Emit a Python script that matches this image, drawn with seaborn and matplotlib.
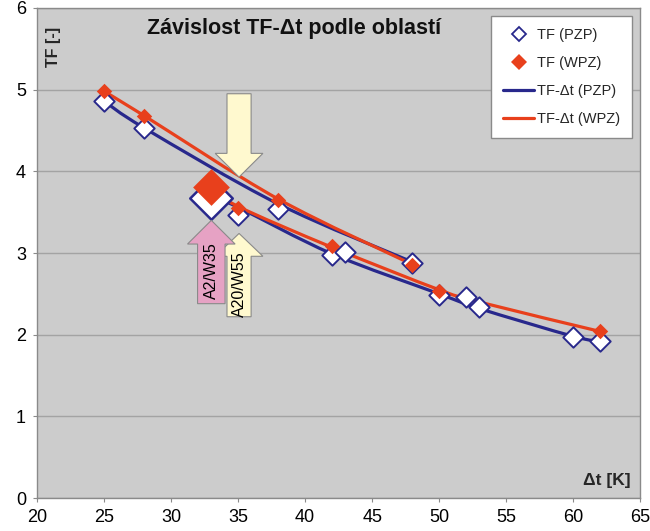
import matplotlib
matplotlib.use("Agg")
import matplotlib.pyplot as plt
import seaborn as sns
import pandas as pd
from matplotlib.path import Path
from matplotlib.patches import PathPatch, FancyArrow
from matplotlib.lines import Line2D

# ---------------- data ----------------
# measured points
dt_pzp = [25, 28, 35, 38, 42, 43, 48, 50, 52, 53, 60, 62]
tf_pzp = [4.86, 4.53, 3.47, 3.54, 2.98, 3.01, 2.88, 2.49, 2.46, 2.34, 1.97, 1.92]
dt_wpz = [25, 28, 35, 38, 42, 48, 50, 62]
tf_wpz = [4.98, 4.68, 3.55, 3.65, 3.08, 2.85, 2.54, 2.05]
# highlighted reference point (A2/W35)
dt_ref = [33]
tf_ref_pzp = [3.67]
tf_ref_wpz = [3.81]

# TF-dt curves
dt_curve_upper = [25, 28, 38, 48]
tf_curve_upper_pzp = [4.86, 4.53, 3.60, 2.89]
tf_curve_upper_wpz = [4.98, 4.68, 3.66, 2.86]
dt_curve_lower_pzp = [33, 35, 42, 50, 53, 60, 62]
tf_curve_lower_pzp = [3.70, 3.56, 2.99, 2.50, 2.32, 1.98, 1.92]
dt_curve_lower_wpz = [33, 35, 42, 50, 53, 62]
tf_curve_lower_wpz = [3.80, 3.57, 3.07, 2.55, 2.40, 2.04]

x_ticks = [20, 25, 30, 35, 40, 45, 50, 55, 60, 65]
y_ticks = [0, 1, 2, 3, 4, 5, 6]

title_text = "Závislost TF-\u0394t podle oblastí"
ylabel_text = "TF [-]"
xlabel_text = "\u0394t [K]"
legend_labels = ["TF (PZP)", "TF (WPZ)", "TF-\u0394t (PZP)", "TF-\u0394t (WPZ)"]
arrow_labels = ["A2/W35", "A20/W55"]

# ---------------- style ----------------
BLUE = "#28288C"
RED = "#E8401C"
BG = "#CCCCCC"
GRID = "#A3A3A3"
SPINE = "#8A8A8A"
YELLOW = "#FFF9CF"
PINK = "#E6A2C4"

sns.set_style("white")
plt.rcParams["font.family"] = ["Liberation Sans", "DejaVu Sans"]

fig = plt.figure(figsize=(6.5, 5.31), dpi=100)
ax = fig.add_axes([0.057, 0.062, 0.928, 0.923])
ax.set_facecolor(BG)


def smooth_path(xs, ys):
    """Excel-like smoothed line (cubic Bezier through the given points)."""
    pts = list(zip(xs, ys))
    n = len(pts)
    verts = [pts[0]]
    codes = [Path.MOVETO]
    for i in range(n - 1):
        p0 = pts[i - 1] if i > 0 else pts[i]
        p1 = pts[i]
        p2 = pts[i + 1]
        p3 = pts[i + 2] if i + 2 < n else pts[i + 1]
        c1 = (p1[0] + (p2[0] - p0[0]) / 6.0, p1[1] + (p2[1] - p0[1]) / 6.0)
        c2 = (p2[0] - (p3[0] - p1[0]) / 6.0, p2[1] - (p3[1] - p1[1]) / 6.0)
        verts += [c1, c2, p2]
        codes += [Path.CURVE4] * 3
    return Path(verts, codes)


curves = [
    (dt_curve_upper, tf_curve_upper_pzp, BLUE),
    (dt_curve_lower_pzp, tf_curve_lower_pzp, BLUE),
    (dt_curve_upper, tf_curve_upper_wpz, RED),
    (dt_curve_lower_wpz, tf_curve_lower_wpz, RED),
]
for xs, ys, col in curves:
    ax.add_patch(PathPatch(smooth_path(xs, ys), fill=False, edgecolor=col,
                           lw=2.3, capstyle="round", joinstyle="round", zorder=3))

df_pzp = pd.DataFrame({"dt": dt_pzp, "tf": tf_pzp})
df_wpz = pd.DataFrame({"dt": dt_wpz, "tf": tf_wpz})
df_ref_pzp = pd.DataFrame({"dt": dt_ref, "tf": tf_ref_pzp})
df_ref_wpz = pd.DataFrame({"dt": dt_ref, "tf": tf_ref_wpz})

sns.scatterplot(data=df_pzp, x="dt", y="tf", ax=ax, marker="D", s=108,
                facecolor="white", edgecolor=BLUE, linewidth=1.4, legend=False, zorder=4)
sns.scatterplot(data=df_ref_pzp, x="dt", y="tf", ax=ax, marker="D", s=470,
                facecolor="white", edgecolor=BLUE, linewidth=1.8, legend=False, zorder=4)
sns.scatterplot(data=df_wpz, x="dt", y="tf", ax=ax, marker="D", s=62,
                color=RED, linewidth=0, legend=False, zorder=5)
sns.scatterplot(data=df_ref_wpz, x="dt", y="tf", ax=ax, marker="D", s=350,
                color=RED, linewidth=0, legend=False, zorder=5)

# annotation arrows
ax.add_patch(FancyArrow(35.07, 4.95, 0, -1.02, width=1.8, head_width=3.56,
                        head_length=0.29, length_includes_head=True,
                        facecolor=YELLOW, edgecolor=SPINE, lw=0.8, zorder=6))
ax.add_patch(FancyArrow(35.07, 2.22, 0, 1.02, width=1.8, head_width=3.56,
                        head_length=0.28, length_includes_head=True,
                        facecolor=YELLOW, edgecolor=SPINE, lw=0.8, zorder=6))
ax.add_patch(FancyArrow(33.0, 2.38, 0, 1.02, width=2.05, head_width=3.55,
                        head_length=0.29, length_includes_head=True,
                        facecolor=PINK, edgecolor=SPINE, lw=0.8, zorder=7))
ax.text(33.0, 2.78, arrow_labels[0], rotation=90, ha="center", va="center",
        fontsize=11.5, color="black", zorder=8)
ax.text(35.1, 2.62, arrow_labels[1], rotation=90, ha="center", va="center",
        fontsize=11.5, color="black", zorder=6.5)

# axes
ax.set_xlim(20, 65)
ax.set_ylim(0, 6)
ax.set_xticks(x_ticks)
ax.set_yticks(y_ticks)
ax.set_xlabel("")
ax.set_ylabel("")
ax.yaxis.grid(True, color=GRID, lw=1.0)
ax.xaxis.grid(False)
ax.set_axisbelow(True)
for sp in ax.spines.values():
    sp.set_color(SPINE)
    sp.set_linewidth(1.0)
    sp.set_visible(True)
ax.tick_params(axis="both", direction="out", length=3, width=0.8, color=SPINE,
               labelsize=13, pad=5, labelcolor="black")
ax.tick_params(axis="x", bottom=True)
ax.tick_params(axis="y", left=True)

ax.text(39.2, 5.75, title_text, ha="center", va="center", fontsize=15.5,
        fontweight="bold", color="#111111")
ax.text(21.25, 5.52, ylabel_text, rotation=90, ha="center", va="center",
        fontsize=11.5, fontweight="bold")
ax.text(64.3, 0.22, xlabel_text, ha="right", va="center", fontsize=12.5,
        fontweight="bold")

handles = [
    Line2D([], [], ls="none", marker="D", markersize=6.8, markerfacecolor="white",
           markeredgecolor=BLUE, markeredgewidth=1.3),
    Line2D([], [], ls="none", marker="D", markersize=7.8, markerfacecolor=RED,
           markeredgewidth=0),
    Line2D([], [], color=BLUE, lw=2.3),
    Line2D([], [], color=RED, lw=2.3),
]
leg = ax.legend(handles, legend_labels, loc="upper right",
                bbox_to_anchor=(0.987, 0.984), borderaxespad=0, fontsize=10.5,
                frameon=True, fancybox=False, shadow=False, framealpha=1,
                edgecolor=SPINE, facecolor="white", handlelength=2.1,
                handletextpad=0.2, labelspacing=0.95, borderpad=0.85)
leg.get_frame().set_linewidth(1.0)
leg.set_zorder(10)

fig.savefig("out.png", dpi=100, facecolor="white")
